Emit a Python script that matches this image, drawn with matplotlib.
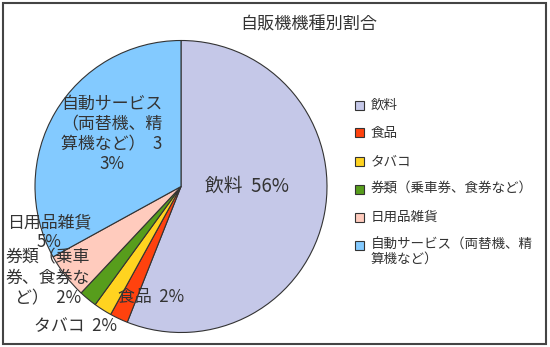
import matplotlib
matplotlib.use("Agg")
import matplotlib.pyplot as plt
from matplotlib.patches import Rectangle

plt.rcParams['font.family'] = ['Noto Sans CJK JP', 'DejaVu Sans']

# data
title = '自販機機種別割合'
categories = ['飲料', '食品', 'タバコ', '券類（乗車券、食券など）', '日用品雑貨',
              '自動サービス（両替機、精\n算機など）']
values = [56, 2, 2, 2, 5, 33]
colors = ['#c5c8e8', '#ff420e', '#ffd320', '#579d1c', '#ffcbbd', '#83caff']
slice_labels = ['飲料  56%', '食品  2%', 'タバコ  2%', '券類（乗車\n券、食券な\nど）  2%',
                '日用品雑貨\n5%', '自動サービス\n（両替機、精\n算機など）  3\n3%']

W, H = 550, 347
def fx(x):
    return x / W
def fy(y):
    return 1 - y / H

fig = plt.figure(figsize=(W / 100, H / 100), dpi=100)
fig.patch.set_facecolor('white')

# pie axes: center ~(181,186), radius ~146 px
cx, cy, r = 181, 186.5, 146
ax = fig.add_axes([fx(cx - r), fy(cy + r), 2 * r / W, 2 * r / H])
wedges, _ = ax.pie(values, colors=colors, startangle=90, counterclock=False,
                   wedgeprops=dict(edgecolor='#333333', linewidth=0.8))
ax.set_xlim(-1, 1)
ax.set_ylim(-1, 1)
ax.set_aspect('equal')
ax.axis('off')

# slice labels
label_pos = [(247, 186), (151, 297), (75, 326), (48, 278), (49, 232), (112, 134)]
label_size = [13.5, 12.2, 12.2, 12.2, 12.2, 12.2]
for txt, (x, y), s in zip(slice_labels, label_pos, label_size):
    fig.text(fx(x), fy(y), txt, ha='center', va='center', fontsize=s,
             color='#333333', linespacing=1.16)

# title
fig.text(fx(309), fy(25), title, ha='center', va='center', fontsize=12.3, color='#333333')

# legend (manual, one row per category)
ly0, step = 105, 28
for i, (name, c) in enumerate(zip(categories, colors)):
    y = ly0 + i * step
    fig.patches.append(Rectangle((fx(355), fy(y + 4.5)), 9 / W, 9 / H, transform=fig.transFigure,
                                 facecolor=c, edgecolor='#333333', linewidth=0.8))
    if '\n' in name:
        fig.text(fx(371), fy(y - 7.5), name, ha='left', va='top', fontsize=9.75,
                 color='#333333', linespacing=1.0)
    else:
        fig.text(fx(371), fy(y), name, ha='left', va='center', fontsize=9.75, color='#333333')

# outer frame
fig.patches.append(Rectangle((fx(3), fy(344)), 543 / W, 341 / H, transform=fig.transFigure,
                             fill=False, edgecolor='#444444', linewidth=1.5))

fig.savefig('out.png', dpi=100)
